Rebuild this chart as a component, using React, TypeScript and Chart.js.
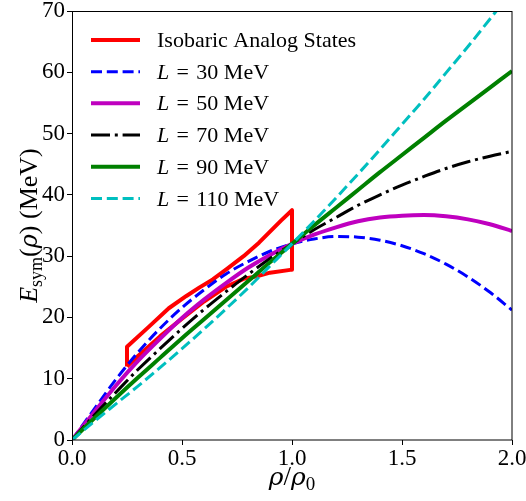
import React, { useEffect, useRef } from 'react';
import { Chart, registerables } from 'chart.js';

Chart.register(...registerables);

// ---------------- data ----------------
const rho = [0, 0.1, 0.2, 0.3, 0.4, 0.5, 0.6, 0.7, 0.8, 0.9, 1.0, 1.1, 1.2, 1.3, 1.4, 1.5, 1.6, 1.7, 1.8, 1.9, 2.0];
const esymL30 = [0, 5.0, 9.9, 14.3, 18.2, 21.6, 24.5, 27.1, 29.1, 30.8, 32.0, 32.8, 33.2, 33.1, 32.6, 31.7, 30.4, 28.7, 26.6, 24.1, 21.2];
const esymL50 = [0, 4.5, 8.9, 12.9, 16.5, 19.9, 22.9, 25.6, 28.1, 30.2, 32.0, 33.5, 34.7, 35.7, 36.3, 36.6, 36.7, 36.5, 36.0, 35.2, 34.1];
const esymL70 = [0, 4.0, 7.8, 11.5, 14.9, 18.2, 21.3, 24.2, 27.0, 29.6, 32.0, 34.3, 36.3, 38.3, 40.0, 41.6, 43.0, 44.3, 45.4, 46.3, 47.1];
const esymL90 = [0, 3.5, 6.9, 10.2, 13.4, 16.6, 19.7, 22.8, 25.9, 29.0, 32.0, 35.0, 37.9, 40.8, 43.7, 46.5, 49.3, 52.1, 54.8, 57.5, 60.2];
const esymL110 = [0, 3.0, 5.9, 8.8, 11.8, 14.9, 18.1, 21.4, 24.8, 28.4, 32.0, 35.7, 39.5, 43.4, 47.4, 51.5, 55.6, 59.9, 64.2, 68.7, 73.2];

// Isobaric Analog States band (closed outline)
const iasRho = [0.25, 0.25, 0.35, 0.44, 0.52, 0.58, 0.64, 0.70, 0.78, 0.85, 0.95, 1.0, 1.0, 0.90, 0.84, 0.78, 0.70, 0.60, 0.50, 0.40, 0.30, 0.25];
const iasEsym = [12.0, 15.2, 18.5, 21.5, 23.5, 24.9, 26.2, 27.8, 30.0, 32.2, 35.8, 37.5, 27.8, 27.3, 26.7, 26.3, 25.0, 22.6, 19.8, 16.9, 13.7, 12.0];

const iasLabel = 'Isobaric Analog States';
const slopeValues = ['30', '50', '70', '90', '110'];
const xTickValues = [0, 0.5, 1.0, 1.5, 2.0];
const yTickValues = [0, 10, 20, 30, 40, 50, 60, 70];

// ---------------- styling ----------------
const SERIF = '"Liberation Serif", "Times New Roman", "DejaVu Serif", serif';
const GREEK = '"DejaVu Serif", "Liberation Serif", serif';

type Run = { t: string; size: number; italic?: boolean; dy?: number; family?: string };

function fontOf(r: Run) {
  return `${r.italic ? 'italic ' : ''}${r.size}px ${r.family || SERIF}`;
}

function drawRuns(ctx: CanvasRenderingContext2D, runs: Run[], x: number, y: number, align: 'left' | 'center') {
  let total = 0;
  const widths = runs.map((r) => {
    ctx.font = fontOf(r);
    const w = ctx.measureText(r.t).width;
    total += w;
    return w;
  });
  let cx = align === 'center' ? x - total / 2 : x;
  ctx.textAlign = 'left';
  ctx.textBaseline = 'alphabetic';
  runs.forEach((r, i) => {
    ctx.font = fontOf(r);
    ctx.fillText(r.t, cx, y + (r.dy || 0));
    cx += widths[i];
  });
}

const toPts = (xs: number[], ys: number[]) => xs.map((x, i) => ({ x, y: ys[i] }));

const styles = [
  { color: '#ff0000', width: 4, dash: [] as number[] },
  { color: '#0000ff', width: 3, dash: [11, 4.8] },
  { color: '#bf00bf', width: 4, dash: [] as number[] },
  { color: '#000000', width: 3, dash: [19, 4.8, 3, 4.8] },
  { color: '#008000', width: 4, dash: [] as number[] },
  { color: '#00bfbf', width: 3, dash: [11, 4.8] },
];

const overlayPlugin = {
  id: 'overlay',
  afterDatasetsDraw(chart: any) {
    const { ctx, chartArea } = chart;
    ctx.save();
    ctx.strokeStyle = '#000';
    ctx.lineWidth = 1;
    ctx.setLineDash([]);
    ctx.strokeRect(Math.round(chartArea.left) + 0.5, Math.round(chartArea.top) + 0.5,
      Math.round(chartArea.right - chartArea.left) - 1 + 0.5, Math.round(chartArea.bottom - chartArea.top) - 0.5);
    ctx.restore();
  },
  afterDraw(chart: any) {
    const { ctx, chartArea } = chart;
    ctx.save();
    ctx.fillStyle = '#000';

    // legend
    const rowY = [40, 71.7, 103.3, 135, 166.7, 198.5];
    const fs = 22;
    const labels: Run[][] = [
      [{ t: iasLabel, size: fs }],
      ...slopeValues.map((v) => [
        { t: 'L', size: fs, italic: true },
        { t: '\u2004=\u2004', size: fs },
        { t: v, size: fs },
        { t: '\u2005', size: fs },
        { t: 'MeV', size: fs },
      ]),
    ];
    styles.forEach((s, i) => {
      ctx.beginPath();
      ctx.strokeStyle = s.color;
      ctx.lineWidth = s.width;
      ctx.lineCap = 'butt';
      ctx.setLineDash(s.dash);
      ctx.moveTo(91, rowY[i]);
      ctx.lineTo(140, rowY[i]);
      ctx.stroke();
      ctx.setLineDash([]);
      drawRuns(ctx, labels[i], 157, rowY[i] + 7, 'left');
    });

    // x axis title
    const cx = (chartArea.left + chartArea.right) / 2;
    drawRuns(ctx, [
      { t: 'ρ', size: 25, italic: true, family: GREEK },
      { t: '/', size: 27 },
      { t: 'ρ', size: 25, italic: true, family: GREEK },
      { t: '0', size: 19, dy: 5 },
    ], cx, 485, 'center');

    // y axis title
    const cy = (chartArea.top + chartArea.bottom) / 2;
    ctx.translate(37, cy);
    ctx.rotate(-Math.PI / 2);
    drawRuns(ctx, [
      { t: 'E', size: 26, italic: true },
      { t: 'sym', size: 18, dy: 5 },
      { t: '(', size: 26 },
      { t: 'ρ', size: 24, italic: true, family: GREEK },
      { t: ')', size: 26 },
      { t: ' (MeV)', size: 26 },
    ], 0, 0, 'center');
    ctx.restore();
  },
};

export default function App() {
  const ref = useRef<HTMLCanvasElement | null>(null);

  useEffect(() => {
    document.body.style.margin = '0';
    if (!ref.current) return;
    const series = [esymL30, esymL50, esymL70, esymL90, esymL110];
    const datasets: any[] = [
      {
        label: iasLabel,
        data: toPts(iasRho, iasEsym),
        borderColor: styles[0].color,
        borderWidth: styles[0].width,
        tension: 0,
        pointRadius: 0,
        fill: false,
        order: 6,
        borderJoinStyle: 'round',
      },
      ...series.map((ys, i) => ({
        label: 'L = ' + slopeValues[i] + ' MeV',
        data: toPts(rho, ys),
        borderColor: styles[i + 1].color,
        borderWidth: styles[i + 1].width,
        borderDash: styles[i + 1].dash,
        borderCapStyle: 'butt',
        cubicInterpolationMode: 'monotone',
        pointRadius: 0,
        fill: false,
        order: 5 - i,
      })),
    ];

    const tickFont = { family: SERIF, size: 23 };
    const chart = new Chart(ref.current, {
      type: 'line',
      data: { datasets },
      plugins: [overlayPlugin],
      options: {
        animation: false,
        responsive: false,
        devicePixelRatio: 1,
        layout: { padding: { top: 11, right: 14, left: 0, bottom: 0 } },
        plugins: { legend: { display: false }, tooltip: { enabled: false } },
        scales: {
          x: {
            type: 'linear',
            min: 0,
            max: 2,
            afterBuildTicks: (scale: any) => {
              scale.ticks = xTickValues.map((v) => ({ value: v }));
            },
            afterFit: (scale: any) => {
              scale.height = 61;
              scale.paddingLeft = 0;
              scale.paddingRight = 0;
            },
            ticks: {
              font: tickFont,
              color: '#000',
              padding: 0,
              maxRotation: 0,
              autoSkip: false,
              callback: (v: any) => Number(v).toFixed(1),
            },
            grid: { drawOnChartArea: false, drawTicks: true, tickLength: 5, tickColor: '#000' },
            border: { display: false },
          },
          y: {
            type: 'linear',
            min: 0,
            max: 70,
            afterBuildTicks: (scale: any) => {
              scale.ticks = yTickValues.map((v) => ({ value: v }));
            },
            afterFit: (scale: any) => {
              scale.width = 72;
              scale.paddingTop = 0;
              scale.paddingBottom = 0;
            },
            ticks: {
              font: tickFont,
              color: '#000',
              padding: 2,
              autoSkip: false,
              callback: (v: any) => String(v),
            },
            grid: { drawOnChartArea: false, drawTicks: true, tickLength: 5, tickColor: '#000' },
            border: { display: false },
          },
        },
      } as any,
    });
    return () => chart.destroy();
  }, []);

  return (
    <div style={{ width: 526, height: 501, background: '#fff' }}>
      <canvas ref={ref} width={526} height={501} style={{ display: 'block' }} />
    </div>
  );
}
